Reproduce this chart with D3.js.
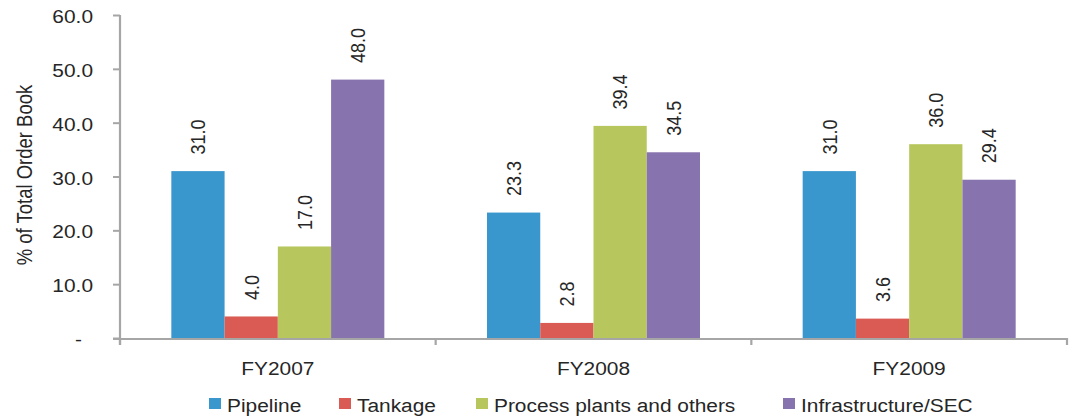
<!DOCTYPE html>
<html>
<head>
<meta charset="utf-8">
<script src="https://cdn.jsdelivr.net/npm/d3@7"></script>
<style>
  html, body { margin: 0; padding: 0; background: #fff; }
  svg { display: block; }
  text { font-family: "Liberation Sans", Arial, sans-serif; fill: #262626; }
</style>
</head>
<body>
<svg id="chart" width="1077" height="417"></svg>
<script>
const categories = ["FY2007", "FY2008", "FY2009"];
const seriesNames = ["Pipeline", "Tankage", "Process plants and others", "Infrastructure/SEC"];
const seriesColors = ["#3A97CD", "#D95B53", "#B7C75D", "#8774AE"];
const pipeline = [31.0, 23.3, 31.0];
const tankage = [4.0, 2.8, 3.6];
const processPlants = [17.0, 39.4, 36.0];
const infrastructure = [48.0, 34.5, 29.4];
const yTicks = [0, 10, 20, 30, 40, 50, 60];
const yTickLabels = ["-", "10.0", "20.0", "30.0", "40.0", "50.0", "60.0"];
const yTitle = "% of Total Order Book";

const seriesValues = [pipeline, tankage, processPlants, infrastructure];
const SX = 1.16; // horizontal text stretch of the reference
const FS = 18;

const svg = d3.select("#chart");
const mLeft = 120, mRight = 1067, mTop = 15, mBottom = 338;

const x0 = d3.scaleBand().domain(categories).range([mLeft, mRight]).padding(0);
const x1 = d3.scaleBand().domain(seriesNames).range([0, x0.bandwidth()])
  .paddingInner(0).paddingOuter(0.964);
const y = d3.scaleLinear().domain([0, 60]).range([mBottom, mTop]);

const axisColor = "#A6A6A6";

// bars
categories.forEach((c, ci) => {
  const g = svg.append("g").attr("transform", `translate(${x0(c)},0)`);
  seriesNames.forEach((s, si) => {
    const v = seriesValues[si][ci];
    g.append("rect")
      .attr("x", x1(s)).attr("width", x1.bandwidth())
      .attr("y", y(v)).attr("height", y(0) - y(v))
      .attr("fill", seriesColors[si]);
    const cx = x1(s) + x1.bandwidth() / 2;
    g.append("text")
      .attr("transform", `translate(${cx},${y(v) - 16.5}) scale(${SX},1) rotate(-90)`)
      .attr("dy", "0.35em")
      .attr("text-anchor", "start")
      .style("font-size", FS + "px")
      .text(v.toFixed(1));
  });
});

// y axis
const yAxis = d3.axisLeft(y).tickValues(yTicks).tickSize(7).tickFormat(() => "");
const yg = svg.append("g").attr("transform", `translate(${mLeft},0)`).call(yAxis);
yg.select(".domain").remove();
yg.selectAll(".tick line").attr("stroke", axisColor).attr("stroke-width", 2);
yg.append("line").attr("x1", 0).attr("x2", 0).attr("y1", mTop).attr("y2", mBottom + 7)
  .attr("stroke", axisColor).attr("stroke-width", 2.2);
yTicks.forEach((t, i) => {
  const xr = i === 0 ? 82 : 93;
  svg.append("text")
    .attr("transform", `translate(${xr},${y(t) + 8}) scale(${SX},1)`)
    .attr("text-anchor", "end")
    .style("font-size", FS + "px")
    .text(yTickLabels[i]);
});

// x axis
svg.append("line").attr("x1", mLeft - 7).attr("x2", mRight + 1).attr("y1", mBottom + 1).attr("y2", mBottom + 1)
  .attr("stroke", axisColor).attr("stroke-width", 2.2);
const bounds = categories.map(c => x0(c)).concat([x0(categories[categories.length - 1]) + x0.bandwidth()]);
bounds.forEach(bx => {
  svg.append("line").attr("x1", bx).attr("x2", bx).attr("y1", mBottom).attr("y2", mBottom + 7)
    .attr("stroke", axisColor).attr("stroke-width", 2.2);
});
categories.forEach(c => {
  svg.append("text")
    .attr("transform", `translate(${x0(c) + x0.bandwidth() / 2},375) scale(${SX},1)`)
    .attr("text-anchor", "middle")
    .style("font-size", FS + "px")
    .text(c);
});

// y title
svg.append("text")
  .attr("transform", `translate(24,175) scale(${SX},1) rotate(-90)`)
  .attr("text-anchor", "middle")
  .attr("dy", "0.35em")
  .style("font-size", "18.5px")
  .text(yTitle);

// legend (layout positions of each entry)
const legendX = [209, 339, 476, 783];
seriesNames.forEach((s, si) => {
  const lx = legendX[si];
  svg.append("rect").attr("x", lx).attr("y", 398).attr("width", 12).attr("height", 11)
    .attr("fill", seriesColors[si]);
  svg.append("text")
    .attr("transform", `translate(${lx + 18},412) scale(${SX},1)`)
    .style("font-size", FS + "px")
    .text(s);
});
</script>
</body>
</html>
